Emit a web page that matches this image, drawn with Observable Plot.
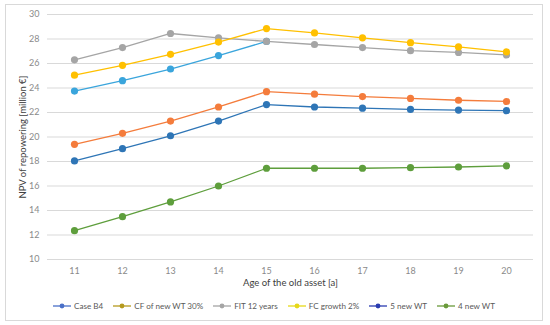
<!DOCTYPE html>
<html>
<head>
<meta charset="utf-8">
<script src="https://cdn.jsdelivr.net/npm/d3@7"></script>
<script src="https://cdn.jsdelivr.net/npm/@observablehq/plot@0.6"></script>
<style>
  body { margin: 0; background: #fff; font-family: Lato, "Open Sans", sans-serif; }
  #frame { position: absolute; left: 5px; top: 4px; width: 538px; height: 317px; border: 1px solid #d9d9d9; box-sizing: border-box; }
  #chart { position: absolute; left: 0; top: 0; }
  #legend { position: absolute; left: 0; top: 301px; width: 548px; display: flex; justify-content: center; gap: 10px; font-size: 8.1px; color: #595959; }
  .item { display: flex; align-items: center; gap: 3px; }
  .item svg { display: block; }
</style>
</head>
<body>
<div id="frame"></div>
<div id="chart"></div>
<div id="legend"></div>
<script>
const ages = [11, 12, 13, 14, 15, 16, 17, 18, 19, 20];
const yTicks = [10, 12, 14, 16, 18, 20, 22, 24, 26, 28, 30];

const seriesNames = ["Case B4", "CF of new WT 30%", "FIT 12 years", "FC growth 2%", "5 new WT", "4 new WT"];
const lineColors = ["#2e75b6", "#f47c3c", "#a5a5a5", "#ffc000", "#3aa5dc", "#5e9e3c"];
const legendColors = ["#4a70c8", "#b59a1e", "#a5a5a5", "#e6d81a", "#2a3cb0", "#6a9a3a"];

const caseB4   = [18.05, 19.05, 20.1, 21.3, 22.65, 22.45, 22.35, 22.25, 22.2, 22.15];
const cf30     = [19.4, 20.3, 21.3, 22.45, 23.7, 23.5, 23.3, 23.15, 23.0, 22.9];
const fit12    = [26.3, 27.3, 28.45, 28.1, 27.8, 27.55, 27.3, 27.05, 26.9, 26.7];
const fc2      = [25.05, 25.85, 26.75, 27.75, 28.85, 28.5, 28.1, 27.7, 27.35, 26.95];
const newWT5   = [23.75, 24.6, 25.55, 26.65, 27.8];
const newWT4   = [12.35, 13.5, 14.7, 16.0, 17.45, 17.45, 17.45, 17.5, 17.55, 17.65];

const drawOrder = [
  ["5 new WT", newWT5],
  ["Case B4", caseB4],
  ["CF of new WT 30%", cf30],
  ["FIT 12 years", fit12],
  ["FC growth 2%", fc2],
  ["4 new WT", newWT4]
];

const rows = [];
for (const [name, vals] of drawOrder) {
  vals.forEach((v, i) => rows.push({series: name, age: ages[i], value: v}));
}

const colorOf = name => lineColors[seriesNames.indexOf(name)];

const marks = [Plot.gridY(yTicks, {stroke: "#d9d9d9", strokeOpacity: 1, strokeWidth: 1})];
for (const [name] of drawOrder) {
  const d = rows.filter(r => r.series === name);
  marks.push(Plot.line(d, {x: "age", y: "value", stroke: colorOf(name), strokeWidth: 1.3}));
  marks.push(Plot.dot(d, {x: "age", y: "value", fill: colorOf(name), r: 3.6}));
}

const chart = Plot.plot({
  width: 550,
  height: 290,
  marginLeft: 47,
  marginRight: 17,
  marginTop: 14,
  marginBottom: 31,
  style: {fontFamily: "Lato, 'Open Sans', sans-serif", fontSize: "9px", color: "#8a8a8a", background: "transparent"},
  x: {type: "point", domain: ages, padding: 0.5, label: "Age of the old asset [a]", labelAnchor: "center", labelOffset: 26, labelArrow: "none", tickSize: 0, tickPadding: 8},
  y: {domain: [10, 30], ticks: yTicks, label: "NPV of repowering [million €]", labelAnchor: "center", labelOffset: 28, labelArrow: "none", tickSize: 0, tickPadding: 8},
  marks
});
document.getElementById("chart").appendChild(chart);

chart.querySelectorAll("g[aria-label='x-axis label'] text, g[aria-label='y-axis label'] text").forEach(t => {
  t.setAttribute("fill", "#404040");
  t.style.fontSize = "9.5px";
});

const legend = document.getElementById("legend");
seriesNames.forEach((name, i) => {
  const item = document.createElement("div");
  item.className = "item";
  const c = legendColors[i];
  item.innerHTML = `<svg width="18" height="8"><line x1="0" y1="4" x2="18" y2="4" stroke="${c}" stroke-width="1.3"/><circle cx="9" cy="4" r="2.4" fill="${c}"/></svg><span>${name}</span>`;
  legend.appendChild(item);
});
</script>
</body>
</html>
